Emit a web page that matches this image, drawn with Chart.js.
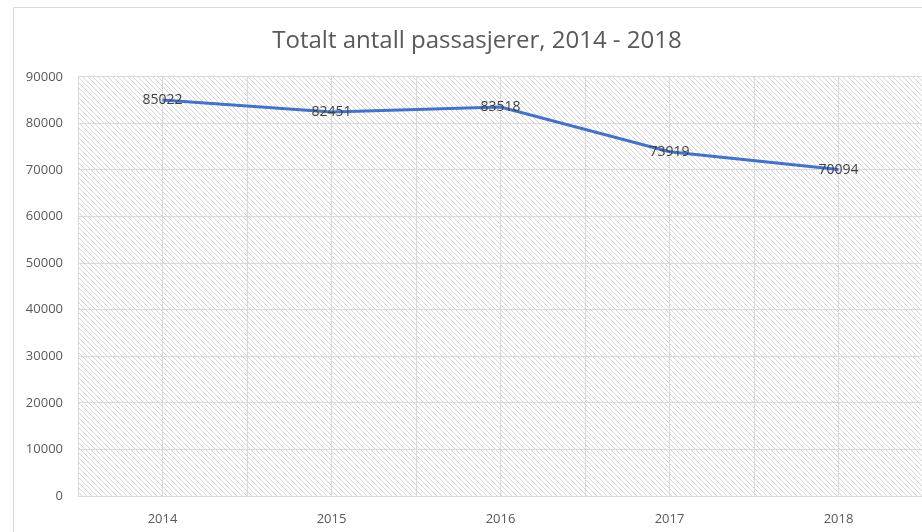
<!DOCTYPE html>
<html>
<head>
<meta charset="utf-8">
<script src="https://cdn.jsdelivr.net/npm/chart.js@4"></script>
<style>
    body { margin: 0; overflow: hidden; background: #fff; }
    #wrap { position: absolute; left: 13px; top: 7px; border-left: 1px solid #d9d9d9; border-top: 1px solid #d9d9d9; }
    canvas { display: block; }
</style>
</head>
<body>
<div id="wrap"><canvas id="chart" width="926" height="525"></canvas></div>
<script>
// data
const years = ['2014', '2015', '2016', '2017', '2018'];
const passengers = [85022, 82451, 83518, 73919, 70094];
const yTicks = { min: 0, max: 90000, step: 10000 };

const fontFamily = "'Open Sans', 'Liberation Sans', sans-serif";
const textColor = '#595959';
const gridColor = '#d9d9d9';

// hatched background of plot area
function makeHatch() {
    const size = 5;
    const c = document.createElement('canvas');
    c.width = size;
    c.height = size;
    const g = c.getContext('2d');
    g.fillStyle = '#ffffff';
    g.fillRect(0, 0, size, size);
    g.strokeStyle = '#d6d6d6';
    g.lineWidth = 1;
    g.beginPath();
    g.moveTo(-1, -1);
    g.lineTo(size + 1, size + 1);
    g.moveTo(-1, size - 1);
    g.lineTo(1, size + 1);
    g.moveTo(size - 1, -1);
    g.lineTo(size + 1, 1);
    g.stroke();
    return c;
}

const hatchPlugin = {
    id: 'hatch',
    beforeDraw(chart) {
        const a = chart.chartArea;
        const ctx = chart.ctx;
        ctx.save();
        ctx.fillStyle = ctx.createPattern(makeHatch(), 'repeat');
        ctx.fillRect(a.left, a.top, a.right - a.left, a.bottom - a.top);
        ctx.restore();
    }
};

// value labels centred on each point
const valueLabels = {
    id: 'valueLabels',
    afterDatasetsDraw(chart) {
        const ctx = chart.ctx;
        const meta = chart.getDatasetMeta(0);
        ctx.save();
        ctx.font = '14px ' + fontFamily;
        ctx.fillStyle = '#404040';
        ctx.textAlign = 'center';
        ctx.textBaseline = 'middle';
        meta.data.forEach((pt, i) => {
            ctx.fillText(String(chart.data.datasets[0].data[i]), pt.x, pt.y);
        });
        ctx.restore();
    }
};

new Chart(document.getElementById('chart'), {
    type: 'line',
    data: {
        labels: years,
        datasets: [{
            label: 'Passasjerer',
            data: passengers,
            borderColor: '#4472c4',
            borderWidth: 3,
            pointRadius: 0,
            tension: 0,
            fill: false
        }]
    },
    options: {
        responsive: false,
        animation: false,
        layout: { padding: 0 },
        plugins: {
            legend: { display: false },
            tooltip: { enabled: false },
            title: {
                display: true,
                text: 'Totalt antall passasjerer, 2014 - 2018',
                color: textColor,
                font: { family: fontFamily, size: 24, weight: 'normal' },
                padding: { top: 19, bottom: 21 }
            }
        },
        scales: {
            x: {
                type: 'category',
                offset: true,
                grid: { offset: true, color: gridColor, drawTicks: false },
                border: { display: false },
                ticks: { color: textColor, font: { family: fontFamily, size: 13 }, padding: 15 },
                afterFit(scale) { scale.height = 37; }
            },
            x2: {
                type: 'category',
                position: 'top',
                offset: true,
                grid: { offset: false, color: gridColor, drawTicks: false },
                border: { display: false },
                ticks: { display: false },
                afterFit(scale) { scale.height = 0; }
            },
            y: {
                min: yTicks.min,
                max: yTicks.max,
                ticks: {
                    stepSize: yTicks.step,
                    color: textColor,
                    font: { family: fontFamily, size: 13 },
                    padding: 15,
                    callback: (v) => String(v)
                },
                grid: { color: gridColor, drawTicks: false },
                border: { display: false },
                afterFit(scale) { scale.width = 64; }
            },
            // empty right-hand strip between plot and chart edge
            yRight: {
                type: 'linear',
                position: 'right',
                grid: { display: false, drawTicks: false },
                border: { display: false },
                ticks: { display: false },
                afterFit(scale) { scale.width = 17; }
            }
        }
    },
    plugins: [hatchPlugin, valueLabels]
});
</script>
</body>
</html>
